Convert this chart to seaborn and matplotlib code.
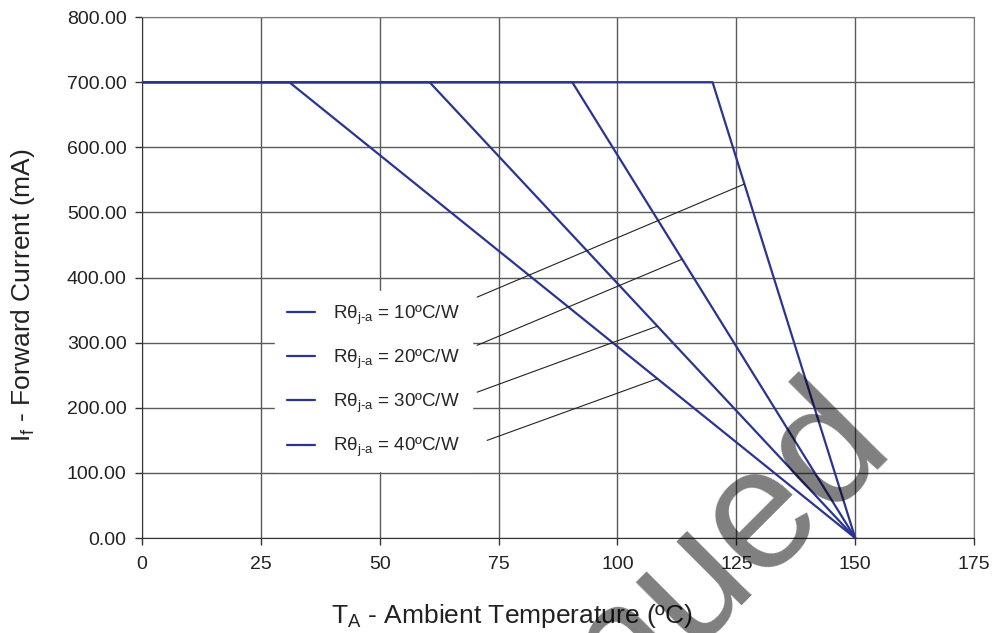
import numpy as np
import pandas as pd
import matplotlib
matplotlib.use("Agg")
import matplotlib.pyplot as plt
import seaborn as sns

# derating curves (T_A in C, I_f in mA)
rth_labels = ["Rθ$_{\\mathrm{j‐a}}$ = 10ºC/W",
              "Rθ$_{\\mathrm{j‐a}}$ = 20ºC/W",
              "Rθ$_{\\mathrm{j‐a}}$ = 30ºC/W",
              "Rθ$_{\\mathrm{j‐a}}$ = 40ºC/W"]
temps_10 = [0, 120, 150]
temps_20 = [0, 90.5, 150]
temps_30 = [0, 60.5, 150]
temps_40 = [0, 31, 150]
current = [700, 700, 0]

x_ticks = [0, 25, 50, 75, 100, 125, 150, 175]
y_ticks = [0, 100, 200, 300, 400, 500, 600, 700, 800]

# leader lines: start point (near legend) and temperature where they meet the curve
leader_start = [(70.5, 370), (70.5, 296), (70.5, 224), (72.6, 150)]
leader_end_t = [126.7, 113.6, 108.4, 108.4]

blue = "#2B3491"

frames = []
for lab, t in zip(rth_labels, [temps_10, temps_20, temps_30, temps_40]):
    frames.append(pd.DataFrame({"T": t, "I": current, "curve": lab}))
df = pd.concat(frames, ignore_index=True)

sns.set_style("white")
plt.rcParams["font.family"] = ["Liberation Sans", "DejaVu Sans"]
plt.rcParams["mathtext.fontset"] = "custom"
plt.rcParams["mathtext.rm"] = "Liberation Sans"
plt.rcParams["mathtext.it"] = "Liberation Sans:italic"

fig = plt.figure(figsize=(9.92, 6.33), dpi=100)
ax = fig.add_axes([0.143, 0.150, 0.839, 0.823])

sns.lineplot(data=df, x="T", y="I", hue="curve", hue_order=rth_labels,
             palette=[blue] * 4, linewidth=1.6, ax=ax, zorder=3)

ax.set_xlim(0, 175)
ax.set_ylim(0, 800)
ax.set_xticks(x_ticks)
ax.set_yticks(y_ticks)
ax.set_yticklabels([f"{v:.2f}" for v in y_ticks])
ax.grid(True, color="#5a5a5a", linewidth=1.0)
ax.set_axisbelow(True)
for s in ["top", "right"]:
    ax.spines[s].set_color("#7a7a7a")
for s in ["left", "bottom"]:
    ax.spines[s].set_color("#333333")
ax.tick_params(axis="both", direction="out", length=5, width=1, color="#333333",
               labelsize=14, labelcolor="#222222", left=True, bottom=True)
ax.tick_params(axis="x", pad=8)
ax.tick_params(axis="y", pad=6)

ax.set_xlabel("T$_{\\mathrm{A}}$ - Ambient Temperature (ºC)", fontsize=19, color="#222222")
ax.set_ylabel("I$_{\\mathrm{f}}$ - Forward Current (mA)", fontsize=19, color="#222222")
ax.xaxis.set_label_coords(0.445, -0.122)
ax.yaxis.set_label_coords(-0.126, 0.466)

for (x0, y0), te, t in zip(leader_start, leader_end_t, [temps_10, temps_20, temps_30, temps_40]):
    ye = np.interp(te, t, current)
    ax.plot([x0, te], [y0, ye], color="#222222", linewidth=0.8, zorder=4)

sns.move_legend(ax, "upper left", bbox_to_anchor=(0.149, 0.492), title=None,
                frameon=True, fancybox=False, facecolor="white", edgecolor="white",
                framealpha=1, fontsize=13.5, handlelength=1.45, handletextpad=1.0,
                labelspacing=1.12, borderpad=0.65)
leg = ax.get_legend()
leg.set_zorder(5)

fig.text(0.900, 0.305, "Discontinued", rotation=45, rotation_mode="anchor",
         ha="right", va="baseline", fontsize=124,
         color="black", alpha=0.5, zorder=10)

fig.savefig("out.png", dpi=100)
